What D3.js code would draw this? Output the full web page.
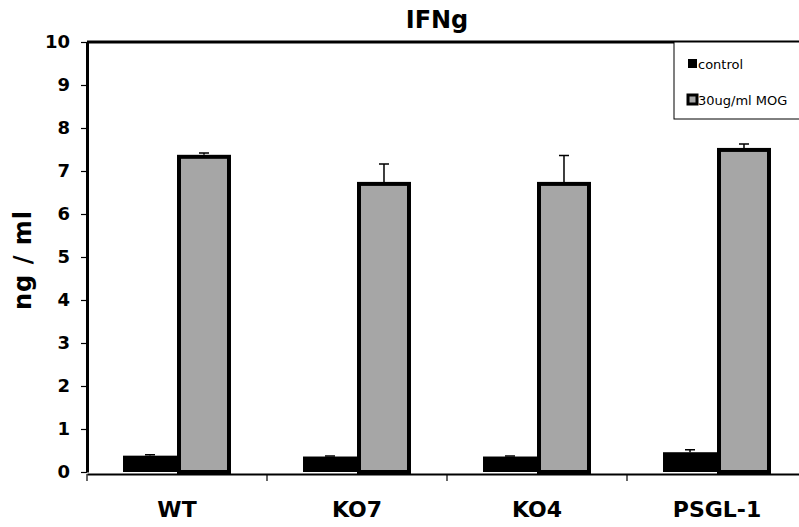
<!DOCTYPE html>
<html>
<head>
<meta charset="utf-8">
<script src="https://cdn.jsdelivr.net/npm/d3@7"></script>
<style>
	body { margin: 0; background: #fff; }
	svg { display: block; font-family: "DejaVu Sans", Verdana, sans-serif; }
</style>
</head>
<body>
<script>
// data
var categories = ["WT", "KO7", "KO4", "PSGL-1"];
var seriesNames = ["control", "30ug/ml MOG"];
var controlValues = [0.38, 0.36, 0.36, 0.46];
var controlErrors = [0.02, 0.01, 0.01, 0.06];
var mogValues = [7.33, 6.70, 6.70, 7.49];
var mogErrors = [0.09, 0.46, 0.66, 0.14];
var yTicks = [0, 1, 2, 3, 4, 5, 6, 7, 8, 9, 10];

var width = 799, height = 527;
var plotLeft = 87, plotTop = 42, plotBottom = 472, plotRight = 807;

var svg = d3.select("body").append("svg")
	.attr("width", width)
	.attr("height", height);

var x0 = d3.scaleBand().domain(categories).range([plotLeft, plotRight]).paddingInner(0).paddingOuter(0);
var x1 = d3.scaleBand().domain(seriesNames).range([0, x0.bandwidth()]).paddingInner(0).paddingOuter(0.667);
var y = d3.scaleLinear().domain([0, 10]).range([plotBottom, plotTop]);

var rows = categories.map(function (c, i) {
	return [
		{cat: c, s: seriesNames[0], v: controlValues[i], e: controlErrors[i]},
		{cat: c, s: seriesNames[1], v: mogValues[i], e: mogErrors[i]}
	];
});

//plot frame: top line
svg.append("line")
	.attr("x1", plotLeft).attr("y1", plotTop).attr("x2", width).attr("y2", plotTop)
	.attr("stroke", "#000").attr("stroke-width", 3);

// bars
var groups = svg.selectAll("g.cat")
	.data(rows)
	.enter().append("g")
	.attr("class", "cat")
	.attr("transform", function (d) { return "translate(" + x0(d[0].cat) + ",0)"; });

groups.selectAll("rect")
	.data(function (d) { return d; })
	.enter().append("rect")
	.attr("x", function (d) { return x1(d.s) + (d.s === seriesNames[1] ? 2 : 0); })
	.attr("y", function (d) { return y(d.v); })
	.attr("width", function (d) { return x1.bandwidth() - (d.s === seriesNames[1] ? 4 : 0); })
	.attr("height", function (d) { return plotBottom - y(d.v); })
	.attr("fill", function (d) { return d.s === seriesNames[0] ? "#000" : "#a6a6a6"; })
	.attr("stroke", function (d) { return d.s === seriesNames[1] ? "#000" : "none"; })
	.attr("stroke-width", 4);

// error bars (upper only)
groups.selectAll("path.err")
	.data(function (d) { return d; })
	.enter().append("path")
	.attr("class", "err")
	.attr("d", function (d) {
		var cx = x1(d.s) + x1.bandwidth() / 2;
		var y1 = y(d.v) - (d.s === seriesNames[1] ? 2 : 0), y2 = y(d.v + d.e);
		return "M" + cx + "," + y1 + "V" + y2 + "M" + (cx - 5) + "," + y2 + "H" + (cx + 5);
	})
	.attr("stroke", "#000")
	.attr("stroke-width", 1.5)
	.attr("fill", "none");

// y axis
var yAxis = svg.append("g")
	.attr("transform", "translate(" + plotLeft + ",0)")
	.call(d3.axisLeft(y).tickValues(yTicks).tickSize(6).tickPadding(11).tickSizeOuter(0));
yAxis.select(".domain").attr("stroke-width", 3);
yAxis.selectAll(".tick line").attr("stroke-width", 1.2);
yAxis.selectAll("text")
	.attr("font-family", "DejaVu Sans, sans-serif")
	.attr("font-weight", "bold")
	.attr("font-size", 18)
	.attr("fill", "#000");

// x axis
var xAxis = svg.append("g")
	.attr("transform", "translate(0," + (plotBottom + 2) + ")")
	.call(d3.axisBottom(x0).tickSize(0).tickPadding(27));
xAxis.select(".domain").attr("stroke-width", 2);
xAxis.selectAll("text")
	.attr("font-family", "DejaVu Sans, sans-serif")
	.attr("font-weight", "bold")
	.attr("font-size", 22)
	.attr("fill", "#000");
xAxis.selectAll("line.sep")
	.data(categories.concat([""]))
	.enter().append("line")
	.attr("class", "sep")
	.attr("x1", function (d, i) { return plotLeft + i * x0.bandwidth(); })
	.attr("x2", function (d, i) { return plotLeft + i * x0.bandwidth(); })
	.attr("y1", 0).attr("y2", 7)
	.attr("stroke", "#000").attr("stroke-width", 1.2);

// title
svg.append("text")
	.attr("x", 437).attr("y", 28)
	.attr("text-anchor", "middle")
	.attr("font-weight", "bold")
	.attr("font-size", 24)
	.text("IFNg");

// y label
svg.append("text")
	.attr("transform", "translate(31,260) rotate(-90)")
	.attr("text-anchor", "middle")
	.attr("font-weight", "bold")
	.attr("font-size", 24)
	.attr("letter-spacing", 1)
	.text("ng / ml");

// legend
var legend = svg.append("g");
legend.append("rect")
	.attr("x", 674).attr("y", plotTop)
	.attr("width", 140).attr("height", 77)
	.attr("fill", "#fff").attr("stroke", "#000").attr("stroke-width", 1);
var items = legend.selectAll("g.item")
	.data(seriesNames)
	.enter().append("g")
	.attr("class", "item")
	.attr("transform", function (d, i) { return "translate(688," + (59 + i * 36) + ")"; });
items.append("rect")
	.attr("width", 9).attr("height", 9)
	.attr("fill", function (d, i) { return i === 0 ? "#000" : "#a6a6a6"; })
	.attr("stroke", "#000")
	.attr("stroke-width", function (d, i) { return i === 0 ? 0 : 3; });
items.append("text")
	.attr("x", 10).attr("y", 9.5)
	.attr("font-size", 13)
	.text(function (d) { return d; });
</script>
</body>
</html>
